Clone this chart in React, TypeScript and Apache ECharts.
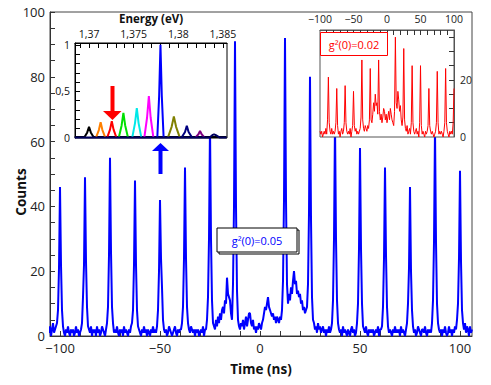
import React, { useEffect, useRef } from 'react';
import * as echarts from 'echarts';

const FONT = '"Open Sans", "Noto Sans", sans-serif';

// Main histogram: time starts at -106 ns, one value every 0.5 ns
const MAIN_T0 = -106;
const MAIN_STEP = 0.5;
const mainCounts = [
  2,1,3,0,2,4,1,2, 3,4,8,21,46,22,8,3,1, 0,2,1,3,1,0,2,1,
  2,0,1,3,1,2,0,1, 2,4,12,22,49,23,9,3,2, 1,3,0,2,1,2,0,3,
  1,2,0,1,3,2,1,0, 2,4,9,25,55,26,9,4,1, 2,1,3,1,0,2,1,2,
  0,3,1,2,1,0,2,1, 3,4,8,22,48,22,8,3,2, 1,0,2,1,3,1,2,0,
  2,1,0,2,1,3,1,2, 1,3,8,20,42,24,15,5,2, 1,2,0,1,3,2,1,0,
  1,2,3,1,0,2,1,2, 2,4,9,24,52,24,9,4,2, 1,3,2,1,2,0,2,1,
  2,0,1,2,1,3,0,2, 2,5,12,30,65,30,11,4, 3,2,5,3,6,4,7,5,8,
  9,7,11,10,18,13,12,11,7,5, 16,40,91,40,14,5,3,2,4,3,5,2,4,6,3,
  5,7,7,4,3,5,2,3,1,3,2,4,3,2,4,5,7,9,8,10,12,9,8,7,6,
  7,5,6,4,6,5,4,6,5,8,17,42,92,42,16,10,13,11,15,13,17,20,16,17,13,
  14,12,13,10,11,8,9,7,8,9,16,38,80,36,12,5,4,2,3,1,4,2,3,1,2,
  3,1,2,0,2,1,3,1, 2,4,11,30,66,30,11,4,2, 1,2,0,3,1,2,1,0,
  2,1,0,2,3,1,2,0, 1,4,10,27,58,27,10,3,2, 1,3,1,0,2,1,2,1,
  2,0,1,2,1,3,0,2, 2,3,9,24,52,25,9,3,1, 2,1,0,2,1,3,1,2,
  1,2,0,3,1,2,1,0, 2,4,10,21,46,20,8,3,1, 2,0,1,3,2,1,0,2,
  2,1,3,1,0,2,1,2, 1,4,11,29,64,29,10,4,2, 1,2,0,2,1,3,1,0,
  1,3,1,2,0,2,1,3, 2,5,10,24,51,23,8,4,2, 4,1,3,2,0,3,1,2,
];

// Red inset histogram: time starts at -100 ns, one value every 1.25 ns
const RED_T0 = -100;
const RED_STEP = 1.25;
const redCounts = [
  2,1,2,0,1,2,1,3,1,6,
  21,5,2,1,3,1,2,1,2,5,
  17,4,1,2,0,2,3,1,2,5,
  18,5,2,1,2,1,3,0,2,4,
  16,4,2,3,1,2,1,2,3,7,
  27,6,3,2,4,3,2,4,3,6,
  24,6,5,8,12,9,15,11,12,8,
  27,9,6,8,5,7,10,9,6,8,
  5,7,9,6,10,8,6,5,4,9,
  35,12,10,16,13,9,11,6,4,7,
  31,6,3,2,4,1,2,3,1,5,
  25,5,2,1,2,3,1,2,0,5,
  25,4,1,2,1,0,2,1,2,4,
  17,4,2,1,2,1,0,1,2,5,
  23,5,1,2,1,2,1,0,2,5,
  24,5,2,1,0,2,1,2,1,5,
  17,
];

// Spectrum inset: [energy (eV), normalized intensity]
const specBlack = [[1.3684,0.01],[1.3695,0.01],[1.3698,0.06],[1.37,0.12],[1.3702,0.06],[1.3705,0.01],[1.3854,0.01]];
const specOrange = [[1.3708,0.01],[1.3711,0.085],[1.3713,0.17],[1.3715,0.085],[1.3718,0.01]];
const specRed = [[1.37205,0.01],[1.37235,0.09],[1.37255,0.18],[1.37275,0.09],[1.37305,0.01]];
const specGreen = [[1.37335,0.01],[1.37365,0.135],[1.37385,0.27],[1.37405,0.135],[1.37435,0.01]];
const specCyan = [[1.37485,0.01],[1.37515,0.16],[1.37535,0.32],[1.37555,0.16],[1.37585,0.01]];
const specMagenta = [[1.3762,0.01],[1.3765,0.22],[1.3767,0.45],[1.3769,0.22],[1.3772,0.01]];
const specBlue = [[1.37765,0.01],[1.37785,0.45],[1.378,1.0],[1.37815,0.45],[1.37835,0.01]];
const specOlive = [[1.37885,0.01],[1.37925,0.12],[1.3795,0.23],[1.37975,0.12],[1.38015,0.01]];
const specNavy = [[1.3804,0.01],[1.38075,0.065],[1.38095,0.13],[1.38115,0.065],[1.3815,0.01]];
const specPurple = [[1.38195,0.01],[1.38225,0.04],[1.38243,0.075],[1.38261,0.04],[1.3829,0.01]];
const specDark = [[1.3684,0.006],[1.3835,0.006],[1.3838,0.03],[1.384,0.04],[1.3842,0.03],[1.3846,0.006],[1.3854,0.006]];

const specSeries = [
  { data: specBlack, color: '#000000' },
  { data: specOrange, color: '#ff8000' },
  { data: specRed, color: '#ff0000' },
  { data: specGreen, color: '#00e000' },
  { data: specCyan, color: '#00e8e8' },
  { data: specMagenta, color: '#ff00ff' },
  { data: specBlue, color: '#0000ff' },
  { data: specOlive, color: '#808000' },
  { data: specNavy, color: '#000080' },
  { data: specPurple, color: '#800080' },
  { data: specDark, color: '#000060' },
];

// Tick labels / tick positions
const mainXLabels = [-100, -50, 0, 50, 100];
const mainXTicks = [-100,-90,-80,-70,-60,-50,-40,-30,-20,-10,0,10,20,30,40,50,60,70,80,90,100];
const mainYTicks = [0,5,10,15,20,25,30,35,40,45,50,55,60,65,70,75,80,85,90,95,100];
const specXLabels = [1.37, 1.375, 1.38, 1.385];
const specXTicks = [1.369,1.37,1.371,1.372,1.373,1.374,1.375,1.376,1.377,1.378,1.379,1.38,1.381,1.382,1.383,1.384,1.385];
const specYLabels = [0, 0.5, 1];
const specYTicks = [0.1,0.2,0.3,0.4,0.5,0.6,0.7,0.8,0.9,1];
const redXLabels = [-100, -50, 0, 50, 100];
const redXTicks = [-90,-80,-70,-60,-50,-40,-30,-20,-10,0,10,20,30,40,50,60,70,80,90];
const redYLabels = [0, 20];
const redYTicks = [5,10,15,20,25,30,35];

const minusFmt = (v: number) => (v < 0 ? '\u2212' + Math.abs(v) : String(v));
const commaFmt = (v: number) => String(Number(v.toFixed(4))).replace('.', ',');

export default function App() {
  const ref = useRef<HTMLDivElement>(null);
  useEffect(() => {
    if (!ref.current) return;
    const chart = echarts.init(ref.current, undefined, { renderer: 'svg' });
    const mainData = mainCounts.map((v, i) => [MAIN_T0 + i * MAIN_STEP, v]);
    const redData = redCounts.map((v, i) => [RED_T0 + i * RED_STEP, v]);
    const axisCol = '#333';
    const option: any = {
      animation: false,
      backgroundColor: '#ffffff',
      grid: [
        { left: 50, top: 12, width: 422, height: 324, show: true, borderColor: '#444', borderWidth: 1, backgroundColor: 'transparent', z: 0 },
        { left: 75, top: 43, width: 152, height: 95, show: true, borderColor: '#000', borderWidth: 1, backgroundColor: '#ffffff', z: 5 },
        { left: 320, top: 30, width: 134, height: 107, show: true, borderColor: '#555', borderWidth: 1, backgroundColor: '#ffffff', z: 5 },
      ],
      xAxis: [
        {
          gridIndex: 0, type: 'value', min: -105, max: 106, position: 'bottom',
          axisLine: { onZero: false, lineStyle: { color: axisCol } },
          axisTick: { inside: true, length: 5, customValues: mainXTicks, lineStyle: { color: axisCol } },
          axisLabel: { customValues: mainXLabels, formatter: minusFmt, color: '#222', fontSize: 13, fontFamily: FONT, margin: 5 },
          splitLine: { show: false },
          name: 'Time (ns)', nameLocation: 'middle', nameGap: 26,
          nameTextStyle: { fontWeight: 'bold', fontSize: 13.5, color: '#111', fontFamily: FONT },
        },
        {
          gridIndex: 1, type: 'value', min: 1.36843, max: 1.38545, position: 'top', z: 6,
          axisLine: { onZero: false, lineStyle: { color: '#000' } },
          axisTick: { inside: true, length: 5, customValues: specXTicks, lineStyle: { color: '#000' } },
          axisLabel: { customValues: specXLabels, formatter: commaFmt, color: '#111', fontSize: 10.5, fontFamily: FONT, margin: 4 },
          splitLine: { show: false },
          name: 'Energy (eV)', nameLocation: 'middle', nameGap: 19,
          nameTextStyle: { fontWeight: 'bold', fontSize: 11.5, color: '#111', fontFamily: FONT },
        },
        {
          gridIndex: 2, type: 'value', min: -100, max: 100, position: 'top', z: 6,
          axisLine: { onZero: false, lineStyle: { color: '#555' } },
          axisTick: { inside: true, length: 5, customValues: redXTicks, lineStyle: { color: '#333' } },
          axisLabel: { customValues: redXLabels, formatter: minusFmt, color: '#222', fontSize: 10.5, fontFamily: FONT, margin: 6 },
          splitLine: { show: false },
        },
      ],
      yAxis: [
        {
          gridIndex: 0, type: 'value', min: 0, max: 100, interval: 20, position: 'left',
          axisLine: { show: true, onZero: false, lineStyle: { color: axisCol } },
          axisTick: { show: true, inside: true, length: 5, customValues: mainYTicks, lineStyle: { color: axisCol } },
          axisLabel: { color: '#222', fontSize: 13, fontFamily: FONT, margin: 5 },
          splitLine: { show: false },
        },
        {
          gridIndex: 1, type: 'value', min: 0, max: 1.02, position: 'left', z: 6,
          axisLine: { show: true, onZero: false, lineStyle: { color: '#000' } },
          axisTick: { show: true, inside: true, length: 5, customValues: specYTicks, lineStyle: { color: '#000' } },
          axisLabel: { customValues: specYLabels, formatter: commaFmt, color: '#111', fontSize: 10.5, fontFamily: FONT, margin: 5 },
          splitLine: { show: false },
        },
        {
          gridIndex: 2, type: 'value', min: 0, max: 37.5, position: 'right', z: 6,
          axisLine: { show: true, onZero: false, lineStyle: { color: '#555' } },
          axisTick: { show: true, inside: true, length: 5, customValues: redYTicks, lineStyle: { color: '#333' } },
          axisLabel: { customValues: redYLabels, color: '#222', fontSize: 10.5, fontFamily: FONT, margin: 6 },
          splitLine: { show: false },
        },
      ],
      series: [
        {
          type: 'line', xAxisIndex: 0, yAxisIndex: 0, data: mainData, symbol: 'none', showSymbol: false,
          lineStyle: { color: '#0000ff', width: 2 }, z: 2, clip: true,
        },
        ...specSeries.map((s) => ({
          type: 'line', xAxisIndex: 1, yAxisIndex: 1, data: s.data, symbol: 'none', showSymbol: false,
          lineStyle: { color: s.color, width: 2 }, z: 7, clip: true,
        })),
        {
          type: 'line', xAxisIndex: 2, yAxisIndex: 2, data: redData, symbol: 'none', showSymbol: false,
          lineStyle: { color: '#ff0000', width: 1 }, z: 7, clip: true,
        },
      ],
      graphic: [
        {
          type: 'text', x: 21, y: 192, rotation: Math.PI / 2, z: 20,
          style: { text: 'Counts', fill: '#111', font: 'bold 13.5px ' + FONT, align: 'center', verticalAlign: 'middle' },
        },
        // g2 box (main)
        { type: 'rect', z: 19, shape: { x: 219, y: 230, width: 80, height: 24 }, style: { fill: '#ffffff', stroke: '#000', lineWidth: 1 } },
        { type: 'rect', z: 20, shape: { x: 217, y: 228, width: 80, height: 24 }, style: { fill: '#ffffff', stroke: '#000', lineWidth: 1 } },
        {
          type: 'text', x: 257, y: 240.5, z: 21,
          style: { text: 'g\u00b2(0)=0.05', fill: '#0000ff', font: '11px ' + FONT, align: 'center', verticalAlign: 'middle' },
        },
        // g2 box (red inset)
        { type: 'rect', z: 20, shape: { x: 320.5, y: 32.5, width: 67, height: 23 }, style: { fill: '#ffffff', stroke: '#ff0000', lineWidth: 1 } },
        {
          type: 'text', x: 354, y: 44, z: 21,
          style: { text: 'g\u00b2(0)=0.02', fill: '#ff0000', font: '11px ' + FONT, align: 'center', verticalAlign: 'middle' },
        },
        // red arrow (down)
        { type: 'rect', z: 20, shape: { x: 110.5, y: 86, width: 4, height: 26 }, style: { fill: '#ff0000' } },
        { type: 'polygon', z: 20, shape: { points: [[103, 111], [121.5, 111], [112.5, 120]] }, style: { fill: '#ff0000' } },
        // blue arrow (up)
        { type: 'rect', z: 20, shape: { x: 158.5, y: 150, width: 4, height: 24 }, style: { fill: '#0000ff' } },
        { type: 'polygon', z: 20, shape: { points: [[152, 151], [169, 151], [160.5, 143]] }, style: { fill: '#0000ff' } },
      ],
    };
    chart.setOption(option);
    return () => chart.dispose();
  }, []);
  return <div ref={ref} style={{ position: 'fixed', left: 0, top: 0, width: 491, height: 385 }} />;
}
